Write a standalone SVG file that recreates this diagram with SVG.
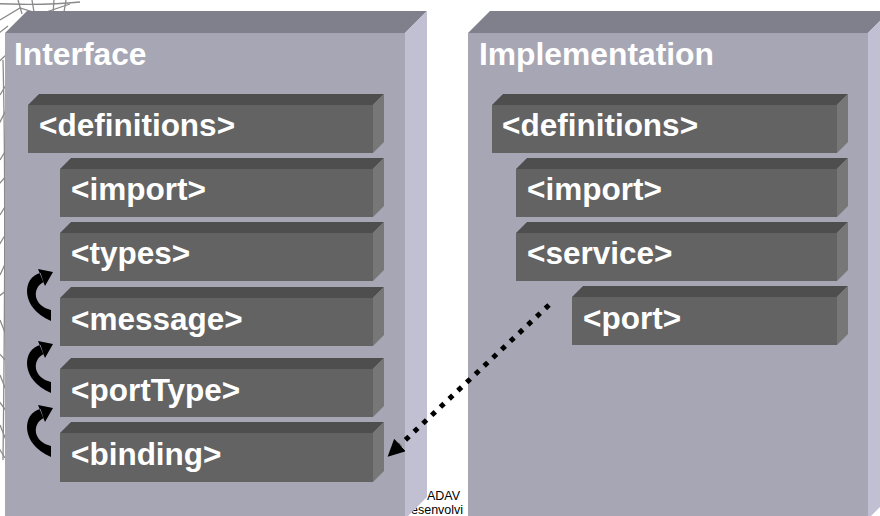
<svg xmlns="http://www.w3.org/2000/svg" width="880" height="516" viewBox="0 0 880 516">
<style>
.bg{fill:#ffffff}
.mesh{fill:none;stroke:#8a8a8a;stroke-width:1.3}
.bigTop{fill:#80808d}
.bigFront{fill:#a7a6b5}
.bigSide{fill:#c1c0d3}
.boxTop{fill:#4e4e4e}
.boxFront{fill:#636363}
.boxSide{fill:#777777}
.title{font-family:"Liberation Sans",Arial,sans-serif;font-weight:bold;font-size:31.8px;fill:#ffffff}
.lbl{font-family:"Liberation Sans",Arial,sans-serif;font-weight:bold;font-size:31.5px;fill:#ffffff}
.foot{font-family:"Liberation Sans",Arial,sans-serif;font-size:12.5px;fill:#000000}
.curl{fill:#000000}
.dots{fill:none;stroke:#000000;stroke-width:5;stroke-dasharray:5 7}
</style>
<defs>
<marker id="head" markerUnits="userSpaceOnUse" markerWidth="17" markerHeight="17" viewBox="0 -8.5 17 17" refX="0" refY="0" orient="auto">
<path d="M0,-8.5 L17,0 L0,8.5 Z" fill="#000000"/>
</marker>
<path id="curlShape" d="M14.5,7 C-4,11 -6,42 25,55 L25,44 C8,40 5,23 17.5,16 Z M12,3 L27,6 L19,20 Z"/>
</defs>
<rect class="bg" x="0" y="0" width="880" height="516"/>
<g id="background-mesh">
<path class="mesh" d="M-40,2 C0,4 40,6 80,2"/>
<path class="mesh" d="M18,0 L22,14 M32,0 L34,12 M54,0 L53,14 M66,0 L64,12"/>
<path class="mesh" d="M0,20 L20,8 L40,14 L70,4"/>
<path class="mesh" d="M-10,40 L8,26 M-10,70 L6,55 M0,95 L6,85 M-4,130 L6,110 M0,160 L6,150"/>
<path class="mesh" d="M-6,190 L7,175 M0,215 L6,205 M-4,250 L7,232 M0,275 L6,262 M-6,300 L7,290"/>
<path class="mesh" d="M0,320 L6,335 M-4,350 L7,362 M0,375 L6,390 M-2,400 L7,412 M0,425 L6,440 M-3,445 L5,458"/>
<path class="mesh" d="M3,60 C5,140 5,300 3,460"/>
</g>
<g id="footer-text">
<text class="foot" x="427" y="500">ADAV</text>
<text class="foot" x="411" y="514">esenvolvi</text>
</g>
<g id="interface">
<polygon class="bigTop" points="5,33 27,11 427,11 405,33"/>
<polygon class="bigSide" points="405,33 427,11 427,497 405,519"/>
<rect class="bigFront" x="5" y="33" width="400" height="486"/>
<text class="title" x="14" y="65">Interface</text>
</g>
<g id="implementation">
<polygon class="bigTop" points="468,33 490,11 890,11 868,33"/>
<polygon class="bigSide" points="868,33 890,11 890,497 868,519"/>
<rect class="bigFront" x="468" y="33" width="400" height="486"/>
<text class="title" x="479" y="65">Implementation</text>
</g>
<g id="if-definitions">
<polygon class="boxTop" points="28,105 39,94 384,94 373,105"/>
<polygon class="boxSide" points="373,105 384,94 384,142 373,153"/>
<rect class="boxFront" x="28" y="105" width="345" height="48"/>
<text class="lbl" x="39" y="136">&lt;definitions&gt;</text>
</g>
<g id="if-import">
<polygon class="boxTop" points="60,169 71,158 384,158 373,169"/>
<polygon class="boxSide" points="373,169 384,158 384,206 373,217"/>
<rect class="boxFront" x="60" y="169" width="313" height="48"/>
<text class="lbl" x="71" y="200">&lt;import&gt;</text>
</g>
<g id="if-types">
<polygon class="boxTop" points="60,233 71,222 384,222 373,233"/>
<polygon class="boxSide" points="373,233 384,222 384,270 373,281"/>
<rect class="boxFront" x="60" y="233" width="313" height="48"/>
<text class="lbl" x="71" y="264">&lt;types&gt;</text>
</g>
<g id="if-message">
<polygon class="boxTop" points="60,298 71,287 384,287 373,298"/>
<polygon class="boxSide" points="373,298 384,287 384,335 373,346"/>
<rect class="boxFront" x="60" y="298" width="313" height="48"/>
<text class="lbl" x="71" y="330">&lt;message&gt;</text>
</g>
<g id="if-porttype">
<polygon class="boxTop" points="60,369 71,358 384,358 373,369"/>
<polygon class="boxSide" points="373,369 384,358 384,406 373,417"/>
<rect class="boxFront" x="60" y="369" width="313" height="48"/>
<text class="lbl" x="71" y="401">&lt;portType&gt;</text>
</g>
<g id="if-binding">
<polygon class="boxTop" points="60,433 71,422 384,422 373,433"/>
<polygon class="boxSide" points="373,433 384,422 384,471 373,482"/>
<rect class="boxFront" x="60" y="433" width="313" height="49"/>
<text class="lbl" x="71" y="465">&lt;binding&gt;</text>
</g>
<g id="im-definitions">
<polygon class="boxTop" points="492,105 503,94 848,94 837,105"/>
<polygon class="boxSide" points="837,105 848,94 848,142 837,153"/>
<rect class="boxFront" x="492" y="105" width="345" height="48"/>
<text class="lbl" x="502" y="136">&lt;definitions&gt;</text>
</g>
<g id="im-import">
<polygon class="boxTop" points="516,169 527,158 848,158 837,169"/>
<polygon class="boxSide" points="837,169 848,158 848,206 837,217"/>
<rect class="boxFront" x="516" y="169" width="321" height="48"/>
<text class="lbl" x="527" y="200">&lt;import&gt;</text>
</g>
<g id="im-service">
<polygon class="boxTop" points="516,233 527,222 848,222 837,233"/>
<polygon class="boxSide" points="837,233 848,222 848,270 837,281"/>
<rect class="boxFront" x="516" y="233" width="321" height="48"/>
<text class="lbl" x="527" y="264">&lt;service&gt;</text>
</g>
<g id="im-port">
<polygon class="boxTop" points="572,297 583,286 848,286 837,297"/>
<polygon class="boxSide" points="837,297 848,286 848,334 837,345"/>
<rect class="boxFront" x="572" y="297" width="265" height="48"/>
<text class="lbl" x="583" y="329">&lt;port&gt;</text>
</g>
<g id="connectors">
<use href="#curlShape" class="curl" x="26" y="266"/>
<use href="#curlShape" class="curl" x="26" y="338"/>
<use href="#curlShape" class="curl" x="26" y="402"/>
<path class="dots" d="M549,305 L400,445" marker-end="url(#head)"/>
</g>
</svg>
